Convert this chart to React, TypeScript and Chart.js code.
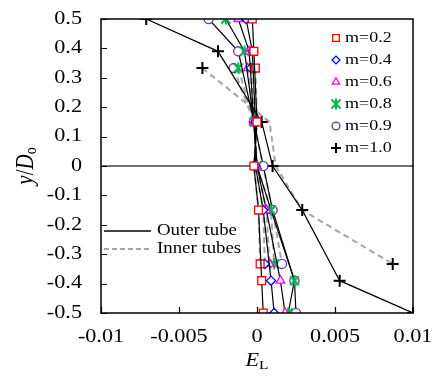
import { useEffect, useRef } from 'react';
import { Chart, registerables } from 'chart.js';
import { drawPoint } from 'chart.js/helpers';

Chart.register(...registerables);

// Cross-section positions (y/Do) of the outer tube and of the inner tubes
const yOuter = [0.5, 0.39, 0.15, 0, -0.15, -0.39, -0.5];
const yInner = [0.333, 0.15, 0, -0.15, -0.333];

const seriesLabels = ['m=0.2', 'm=0.4', 'm=0.6', 'm=0.8', 'm=0.9', 'm=1.0'];

// EL along the outer tube, one list per m
const outerM02 = [-0.0003, -0.0002, 0.0, -0.0002, 0.0001, 0.0003, 0.0004];
const outerM04 = [-0.0007, -0.0003, -0.0001, -0.0001, 0.0004, 0.0009, 0.0011];
const outerM06 = [-0.0012, -0.0005, -0.0002, 0.0, 0.0006, 0.0015, 0.0018];
const outerM08 = [-0.002, -0.0008, -0.0002, 0.0, 0.0009, 0.0024, 0.002];
const outerM09 = [-0.0031, -0.0012, -0.0002, 0.0004, 0.001, 0.0024, 0.0025];
const outerM10 = [-0.0071, -0.0025, 0.0003, 0.001, 0.0029, 0.0053, 0.01];

// EL along the inner tubes, one list per m
const innerM02 = [-0.0001, 0.0, -0.0002, 0.0001, 0.0002];
const innerM04 = [-0.0004, -0.0001, -0.0001, 0.0004, 0.0005];
const innerM06 = [-0.0006, -0.0002, 0.0, 0.0006, 0.0008];
const innerM08 = [-0.0012, -0.0002, 0.0, 0.0009, 0.0011];
const innerM09 = [-0.0015, -0.0002, 0.0004, 0.001, 0.0016];
const innerM10 = [-0.0035, 0.0008, 0.0012, 0.0029, 0.0087];

const xTickValues = [-0.01, -0.005, 0, 0.005, 0.01];
const xTickLabels = ['-0.01', '-0.005', '0', '0.005', '0.01'];
const yTickValues = [0.5, 0.4, 0.3, 0.2, 0.1, 0, -0.1, -0.2, -0.3, -0.4, -0.5];
const yTickLabels = ['0.5', '0.4', '0.3', '0.2', '0.1', '0', '-0.1', '-0.2', '-0.3', '-0.4', '-0.5'];

const outerSeries = [outerM02, outerM04, outerM06, outerM08, outerM09, outerM10];
const innerSeries = [innerM02, innerM04, innerM06, innerM08, innerM09, innerM10];

const markerColors = ['#FF0000', '#0000FF', '#FF00FF', '#00B050', '#7030A0', '#000000'];
const markerRadii = [5.5, 4.6, 5, 5, 4.6, 6];

const SERIF = '"Liberation Serif", "Times New Roman", serif';
const SX = 1.2; // horizontal stretch of the lettering

function makeStarMarker(color: string): HTMLCanvasElement {
  const c = document.createElement('canvas');
  c.width = 12;
  c.height = 12;
  const g = c.getContext('2d')!;
  g.strokeStyle = color;
  g.lineWidth = 2;
  g.beginPath();
  g.moveTo(1.5, 1.5);
  g.lineTo(10.5, 10.5);
  g.moveTo(10.5, 1.5);
  g.lineTo(1.5, 10.5);
  g.moveTo(6, 0.5);
  g.lineTo(6, 11.5);
  g.stroke();
  return c;
}

function text(ctx: CanvasRenderingContext2D, s: string, x: number, y: number, font: string, align: CanvasTextAlign) {
  ctx.save();
  ctx.translate(x, y);
  ctx.scale(SX, 1);
  ctx.font = font;
  ctx.textAlign = align;
  ctx.textBaseline = 'middle';
  ctx.fillStyle = '#000';
  ctx.fillText(s, 0, 0);
  ctx.restore();
}

export default function App() {
  const ref = useRef<HTMLCanvasElement | null>(null);

  useEffect(() => {
    const canvas = ref.current;
    if (!canvas) return;
    const star = makeStarMarker(markerColors[3]);
    const pointStyles: any[] = ['rect', 'rectRot', 'triangle', star, 'circle', 'cross'];

    const datasets: any[] = [];
    outerSeries.forEach((vals, k) => {
      datasets.push({
        label: seriesLabels[k],
        data: yOuter.map((y, i) => ({ x: vals[i], y })),
        showLine: true,
        borderColor: '#000',
        borderWidth: 1.2,
        pointStyle: pointStyles[k],
        pointRadius: markerRadii[k],
        pointBorderColor: markerColors[k],
        pointBackgroundColor: '#fff',
        pointBorderWidth: k === 5 ? 2 : 1.3,
      });
    });
    innerSeries.forEach((vals, k) => {
      datasets.push({
        label: seriesLabels[k] + ' inner',
        data: yInner.map((y, i) => ({ x: vals[i], y })),
        showLine: true,
        borderColor: '#A6A6A6',
        borderWidth: 2,
        borderDash: [6, 4],
        pointStyle: pointStyles[k],
        pointRadius: yInner.map((y) => (Math.abs(y) > 0.3 ? markerRadii[k] : 0)),
        pointBorderColor: markerColors[k],
        pointBackgroundColor: '#fff',
        pointBorderWidth: k === 5 ? 2 : 1.3,
      });
    });

    const frame = {
      id: 'frame',
      beforeDatasetsDraw(chart: any) {
        const { ctx, chartArea: a, scales } = chart;
        const y0 = scales.y.getPixelForValue(0);
        ctx.save();
        ctx.strokeStyle = '#404040';
        ctx.lineWidth = 1.5;
        ctx.beginPath();
        ctx.moveTo(a.left, y0);
        ctx.lineTo(a.right, y0);
        ctx.stroke();
        ctx.restore();
      },
      afterDatasetsDraw(chart: any) {
        const { ctx, chartArea: a, scales } = chart;
        ctx.save();
        ctx.strokeStyle = '#000';
        ctx.lineWidth = 1.5;
        ctx.strokeRect(a.left, a.top, a.right - a.left, a.bottom - a.top);
        ctx.lineWidth = 1.2;
        ctx.beginPath();
        yTickValues.forEach((v) => {
          const py = Math.round(scales.y.getPixelForValue(v)) + 0.5;
          ctx.moveTo(a.left, py);
          ctx.lineTo(a.left + 6, py);
        });
        xTickValues.forEach((v) => {
          const px = Math.round(scales.x.getPixelForValue(v)) + 0.5;
          ctx.moveTo(px, a.bottom);
          ctx.lineTo(px, a.bottom - 6);
        });
        ctx.stroke();

        const tickFont = `18.5px ${SERIF}`;
        yTickValues.forEach((v, i) => {
          text(ctx, yTickLabels[i], a.left - 19, scales.y.getPixelForValue(v), tickFont, 'right');
        });
        xTickValues.forEach((v, i) => {
          text(ctx, xTickLabels[i], scales.x.getPixelForValue(v), a.bottom + 24, tickFont, 'center');
        });

        // x title: E with subscript L
        const cx = scales.x.getPixelForValue(0);
        ctx.save();
        ctx.translate(cx, 361);
        ctx.scale(SX, 1);
        ctx.fillStyle = '#000';
        ctx.textBaseline = 'middle';
        ctx.textAlign = 'left';
        ctx.font = `italic 18.5px ${SERIF}`;
        const wE = ctx.measureText('E').width;
        ctx.font = `13px ${SERIF}`;
        const wL = ctx.measureText('L').width;
        const x0 = -(wE + wL) / 2;
        ctx.font = `italic 18.5px ${SERIF}`;
        ctx.fillText('E', x0, 0);
        ctx.font = `13px ${SERIF}`;
        ctx.fillText('L', x0 + wE, 5);
        ctx.restore();

        // y title: y/D with subscript o, rotated
        const cy = scales.y.getPixelForValue(0);
        ctx.save();
        ctx.translate(26, cy);
        ctx.rotate(-Math.PI / 2);
        ctx.scale(1, SX);
        ctx.fillStyle = '#000';
        ctx.textBaseline = 'middle';
        ctx.textAlign = 'left';
        const parts: [string, string, number][] = [
          ['y', `italic 21px ${SERIF}`, 0],
          ['/', `21px ${SERIF}`, 0],
          ['D', `italic 21px ${SERIF}`, 0],
          ['o', `14px ${SERIF}`, 5],
        ];
        let total = 0;
        const widths = parts.map(([s, f]) => {
          ctx.font = f;
          const w = ctx.measureText(s).width;
          total += w;
          return w;
        });
        let px = -total / 2;
        parts.forEach(([s, f, dy], i) => {
          ctx.font = f;
          ctx.fillText(s, px, dy);
          px += widths[i];
        });
        ctx.restore();

        // marker legend, top right
        const legFont = `15px ${SERIF}`;
        seriesLabels.forEach((lab, k) => {
          const ly = 38 + k * 22;
          ctx.save();
          ctx.strokeStyle = markerColors[k];
          ctx.fillStyle = '#fff';
          ctx.lineWidth = k === 5 ? 2 : 1.3;
          drawPoint(ctx, { pointStyle: pointStyles[k], radius: markerRadii[k] * 0.85, rotation: 0, borderWidth: ctx.lineWidth } as any, 336, ly);
          ctx.restore();
          text(ctx, lab, 345, ly, legFont, 'left');
        });

        // line legend, lower left
        ctx.strokeStyle = '#000';
        ctx.lineWidth = 1.3;
        ctx.setLineDash([]);
        ctx.beginPath();
        ctx.moveTo(104, 231);
        ctx.lineTo(151, 231);
        ctx.stroke();
        ctx.strokeStyle = '#A6A6A6';
        ctx.lineWidth = 2;
        ctx.setLineDash([5, 3]);
        ctx.beginPath();
        ctx.moveTo(104, 249);
        ctx.lineTo(151, 249);
        ctx.stroke();
        ctx.setLineDash([]);
        const lineFont = `15.7px ${SERIF}`;
        text(ctx, 'Outer tube', 157, 231, lineFont, 'left');
        text(ctx, 'Inner tubes', 157, 249, lineFont, 'left');
        ctx.restore();
      },
    };

    const chart = new Chart(canvas, {
      type: 'scatter',
      data: { datasets },
      options: {
        animation: false,
        responsive: false,
        devicePixelRatio: 1,
        layout: { padding: { top: 19, right: 22, left: 0, bottom: 0 } },
        plugins: { legend: { display: false }, tooltip: { enabled: false } },
        elements: { line: { tension: 0 } },
        scales: {
          x: {
            type: 'linear',
            min: -0.01,
            max: 0.01,
            ticks: { display: false },
            grid: { display: false },
            border: { display: false },
            afterFit: (s: any) => {
              s.height = 70;
            },
          },
          y: {
            type: 'linear',
            min: -0.5,
            max: 0.5,
            ticks: { display: false },
            grid: { display: false },
            border: { display: false },
            afterFit: (s: any) => {
              s.width = 101;
            },
          },
        },
      },
      plugins: [frame],
    });
    return () => chart.destroy();
  }, []);

  return (
    <div style={{ position: 'absolute', left: 0, top: 0, width: 435, height: 383, background: '#fff' }}>
      <canvas ref={ref} width={435} height={383} style={{ display: 'block', width: 435, height: 383 }} />
    </div>
  );
}
